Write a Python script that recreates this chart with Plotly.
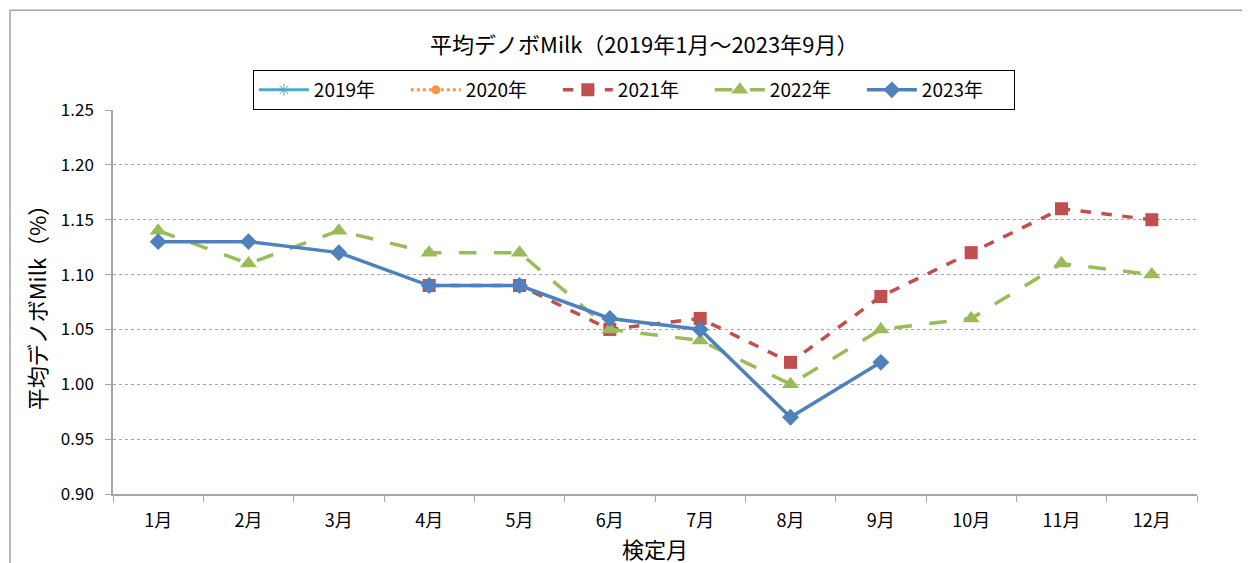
import plotly.graph_objects as go

months = ["1月", "2月", "3月", "4月", "5月", "6月", "7月", "8月", "9月", "10月", "11月", "12月"]
y2019 = [None] * 12
y2020 = [None] * 12
y2021 = [None, None, None, 1.09, 1.09, 1.05, 1.06, 1.02, 1.08, 1.12, 1.16, 1.15]
y2022 = [1.14, 1.11, 1.14, 1.12, 1.12, 1.05, 1.04, 1.00, 1.05, 1.06, 1.11, 1.10]
y2023 = [1.13, 1.13, 1.12, 1.09, 1.09, 1.06, 1.05, 0.97, 1.02, None, None, None]

FONT = "Noto Sans CJK JP, Noto Sans, sans-serif"

fig = go.Figure()
fig.add_trace(go.Scatter(x=months, y=y2019, name="2019年", mode="lines+markers",
                         line=dict(color="#4BACC6", width=3),
                         marker=dict(symbol="asterisk-open", size=10, color="#4BACC6")))
fig.add_trace(go.Scatter(x=months, y=y2020, name="2020年", mode="lines+markers",
                         line=dict(color="#F79646", width=3, dash="dot"),
                         marker=dict(symbol="circle", size=9, color="#F79646")))
fig.add_trace(go.Scatter(x=months, y=y2021, name="2021年", mode="lines+markers",
                         line=dict(color="#C0504D", width=3.5, dash="dash"),
                         marker=dict(symbol="square", size=13, color="#C0504D")))
fig.add_trace(go.Scatter(x=months, y=y2022, name="2022年", mode="lines+markers",
                         line=dict(color="#9BBB59", width=3.5, dash="longdash"),
                         marker=dict(symbol="triangle-up", size=15, color="#9BBB59")))
fig.add_trace(go.Scatter(x=months, y=y2023, name="2023年", mode="lines+markers",
                         line=dict(color="#4F81BD", width=3.5),
                         marker=dict(symbol="diamond", size=13, color="#4F81BD")))

fig.update_layout(
    width=1250, height=563,
    margin=dict(l=105, r=61, t=102, b=77),
    paper_bgcolor="white", plot_bgcolor="white",
    font=dict(family=FONT, color="black"),
    title=dict(text="平均デノボMilk（2019年1月～2023年9月）", x=0.509, xanchor="center",
               y=0.934, yanchor="middle", font=dict(size=22, family=FONT)),
    showlegend=True,
    legend=dict(orientation="h", x=0.129, xanchor="left", y=1.0, yanchor="bottom",
                bordercolor="black", borderwidth=1, bgcolor="white",
                font=dict(size=19, family=FONT), itemwidth=50,
                entrywidth=87, entrywidthmode="pixels",
                traceorder="normal"),
    xaxis=dict(type="category", categoryorder="array", categoryarray=months,
               range=[-0.5, 11.5], showgrid=False, showline=True, linecolor="#A6A6A6",
               linewidth=1.5, ticks="outside", tickson="boundaries", ticklen=6,
               tickcolor="#A6A6A6", tickfont=dict(size=18, family=FONT),
               ticklabelstandoff=10,
               title=dict(text="検定月", font=dict(size=22, family=FONT), standoff=2)),
    yaxis=dict(range=[0.9, 1.25], dtick=0.05, tick0=0.9, tickformat=".2f",
               showgrid=True, gridcolor="#A6A6A6", griddash="dot", gridwidth=1,
               showline=True, linecolor="#A6A6A6", linewidth=1.5, ticks="outside",
               ticklen=6, tickcolor="#A6A6A6", tickfont=dict(size=17, family=FONT),
               ticklabelstandoff=8, zeroline=False,
               title=dict(text="平均デノボMilk（%）", font=dict(size=22, family=FONT), standoff=8)),
)

fig.add_shape(type="rect", xref="paper", yref="paper", x0=-0.095, x1=1.2, y0=-0.5, y1=1.26,
              line=dict(color="#A6A6A6", width=1.5), fillcolor="rgba(0,0,0,0)", layer="below")

fig.write_html("out.html")
